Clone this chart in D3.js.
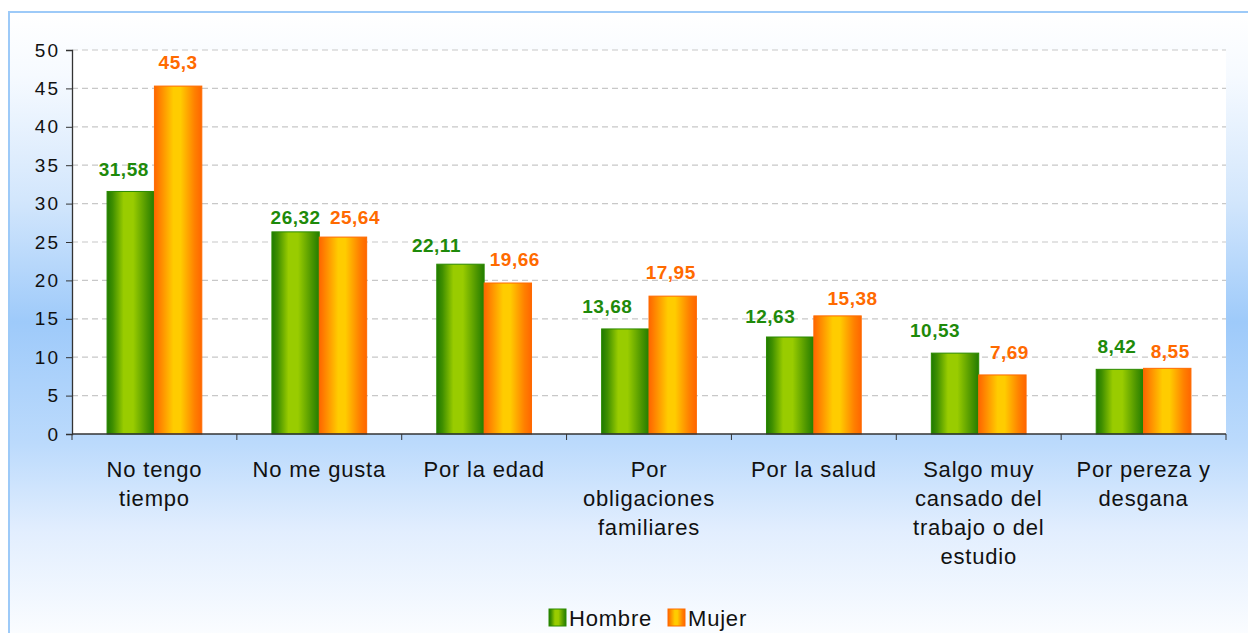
<!DOCTYPE html>
<html>
<head>
<meta charset="utf-8">
<script src="https://d3js.org/d3.v7.min.js"></script>
<style>
  body { margin: 0; background: #fff; }
  svg { display: block; font-family: Arial, "Liberation Sans", sans-serif; }
</style>
</head>
<body>
<div id="chart"></div>
<script>
var categories = [
    ["No tengo", "tiempo"],
    ["No me gusta"],
    ["Por la edad"],
    ["Por", "obligaciones", "familiares"],
    ["Por la salud"],
    ["Salgo muy", "cansado del", "trabajo o del", "estudio"],
    ["Por pereza y", "desgana"]
];
var series = ["Hombre", "Mujer"];
var hombre = [31.58, 26.32, 22.11, 13.68, 12.63, 10.53, 8.42];
var mujer = [45.3, 25.64, 19.66, 17.95, 15.38, 7.69, 8.55];
var labelsHombre = ["31,58", "26,32", "22,11", "13,68", "12,63", "10,53", "8,42"];
var labelsMujer = ["45,3", "25,64", "19,66", "17,95", "15,38", "7,69", "8,55"];
var yTicks = [0, 5, 10, 15, 20, 25, 30, 35, 40, 45, 50];

window.onload = function() {
    drawChart();
}

function drawChart() {
    var width = 1248, height = 633;
    var left = 72, right = 1226, top = 50, bottom = 434;

    // hand-placed value labels in the original: [dx from bar centre, gap above bar top]
    var nudgeH = [[-7, 15], [0, 8], [-24, 12], [-18, 16], [-20, 14], [-20, 16], [-3, 16]];
    var nudgeM = [[0, 17], [12, 13], [7, 17], [-2, 17], [15, 11], [7, 16], [3, 10]];

    var svg = d3.select('#chart').append('svg')
        .attr('width', width)
        .attr('height', height);

    var defs = svg.append('defs');

    // background gradient (white -> blue -> white)
    var bg = defs.append('linearGradient')
        .attr('id', 'bg').attr('x1', 0).attr('y1', 0).attr('x2', 0).attr('y2', 1);
    [[0, '#ffffff'], [0.1, '#f6faff'], [0.3, '#d2e6fc'], [0.49, '#9ecafa'],
     [0.68, '#bbdafc'], [0.82, '#e2eefe'], [1, '#fdfeff']].forEach(function(s) {
        bg.append('stop').attr('offset', s[0]).attr('stop-color', s[1]);
    });

    var green = defs.append('linearGradient').attr('id', 'gGreen');
    [[0, '#1f7a00'], [0.12, '#3f8f00'], [0.35, '#99cc00'], [0.55, '#99cc00'],
     [0.85, '#4a9400'], [1, '#237d00']].forEach(function(s) {
        green.append('stop').attr('offset', s[0]).attr('stop-color', s[1]);
    });
    var orange = defs.append('linearGradient').attr('id', 'gOrange');
    [[0, '#ff6600'], [0.15, '#ff8c00'], [0.4, '#ffcc00'], [0.55, '#ffcc00'],
     [0.85, '#ff8000'], [1, '#ff6600']].forEach(function(s) {
        orange.append('stop').attr('offset', s[0]).attr('stop-color', s[1]);
    });

    svg.append('rect')
        .attr('x', 9).attr('y', 12)
        .attr('width', width).attr('height', height)
        .attr('fill', 'url(#bg)')
        .attr('stroke', '#9dcaf8')
        .attr('stroke-width', 2);

    svg.append('rect')
        .attr('x', left).attr('y', top)
        .attr('width', right - left).attr('height', bottom - top)
        .attr('fill', '#ffffff');

    var x0 = d3.scaleBand()
        .domain(d3.range(categories.length))
        .range([left, right])
        .paddingInner(0).paddingOuter(0);
    var x1 = d3.scaleBand()
        .domain(series)
        .range([0, x0.bandwidth()])
        .paddingInner(0)
        .paddingOuter(0.74);
    var y = d3.scaleLinear().domain([0, 50]).range([bottom, top]);

    // gridlines
    svg.append('g').selectAll('line')
        .data(yTicks.filter(function(d) { return d > 0; }))
        .enter().append('line')
        .attr('x1', left).attr('x2', right)
        .attr('y1', function(d) { return y(d); })
        .attr('y2', function(d) { return y(d); })
        .attr('stroke', '#c8c8c8')
        .attr('stroke-width', 1.2)
        .attr('stroke-dasharray', '6,4');

    var data = categories.map(function(c, i) {
        return [
            { s: 'Hombre', v: hombre[i], l: labelsHombre[i], n: nudgeH[i] },
            { s: 'Mujer', v: mujer[i], l: labelsMujer[i], n: nudgeM[i] }
        ];
    });

    var groups = svg.append('g').selectAll('g')
        .data(data)
        .enter().append('g')
        .attr('transform', function(d, i) { return 'translate(' + x0(i) + ',0)'; });

    groups.selectAll('rect')
        .data(function(d) { return d; })
        .enter().append('rect')
        .attr('x', function(d) { return x1(d.s); })
        .attr('width', x1.bandwidth())
        .attr('y', function(d) { return y(d.v); })
        .attr('height', function(d) { return y(0) - y(d.v); })
        .attr('fill', function(d) { return d.s == 'Hombre' ? 'url(#gGreen)' : 'url(#gOrange)'; })
        .attr('stroke', function(d) { return d.s == 'Hombre' ? '#2b8a00' : '#ff6a00'; })
        .attr('stroke-width', 1);

    groups.selectAll('text')
        .data(function(d) { return d; })
        .enter().append('text')
        .attr('x', function(d) { return x1(d.s) + x1.bandwidth() / 2 + d.n[0]; })
        .attr('y', function(d) { return y(d.v) - d.n[1]; })
        .attr('text-anchor', 'middle')
        .attr('font-size', '19px')
        .attr('font-weight', 'bold')
        .attr('letter-spacing', '0.5px')
        .attr('fill', function(d) { return d.s == 'Hombre' ? '#1e8a0a' : '#ff6a00'; })
        .text(function(d) { return d.l; });

    // y axis
    var yAxis = svg.append('g')
        .attr('transform', 'translate(' + left + ',0)')
        .call(d3.axisLeft(y).tickValues(yTicks).tickSize(6).tickPadding(6));
    yAxis.select('.domain').attr('stroke', '#333').attr('stroke-width', 1.3);
    yAxis.selectAll('.tick line').attr('stroke', '#333');
    yAxis.selectAll('text')
        .attr('font-size', '19px')
        .attr('letter-spacing', '2px')
        .attr('font-family', 'Arial, "Liberation Sans", sans-serif')
        .attr('fill', '#111');

    // x axis
    var xAxis = svg.append('g')
        .attr('transform', 'translate(0,' + bottom + ')');
    xAxis.append('line')
        .attr('x1', left).attr('x2', right)
        .attr('stroke', '#333').attr('stroke-width', 1.3);
    xAxis.selectAll('.tk')
        .data(d3.range(categories.length + 1))
        .enter().append('line')
        .attr('class', 'tk')
        .attr('x1', function(d) { return d < categories.length ? x0(d) : right; })
        .attr('x2', function(d) { return d < categories.length ? x0(d) : right; })
        .attr('y1', 0).attr('y2', 6)
        .attr('stroke', '#333');

    var catText = svg.append('g').selectAll('text')
        .data(categories)
        .enter().append('text')
        .attr('text-anchor', 'middle')
        .attr('font-size', '22px')
        .attr('letter-spacing', '0.8px')
        .attr('fill', '#111')
        .attr('transform', function(d, i) {
            return 'translate(' + (x0(i) + x0.bandwidth() / 2) + ',' + (bottom + 43) + ')';
        });
    catText.selectAll('tspan')
        .data(function(d) { return d; })
        .enter().append('tspan')
        .attr('x', 0)
        .attr('dy', function(d, i) { return i == 0 ? 0 : 29; })
        .text(function(d) { return d; });

    // legend
    var legend = svg.append('g')
        .attr('transform', 'translate(549,609)');
    var items = [
        { name: 'Hombre', fill: 'url(#gGreen)', stroke: '#2b8a00', x: 0 },
        { name: 'Mujer', fill: 'url(#gOrange)', stroke: '#ff6a00', x: 119 }
    ];
    var li = legend.selectAll('g')
        .data(items)
        .enter().append('g')
        .attr('transform', function(d) { return 'translate(' + d.x + ',0)'; });
    li.append('rect')
        .attr('width', 17).attr('height', 17)
        .attr('fill', function(d) { return d.fill; })
        .attr('stroke', function(d) { return d.stroke; });
    li.append('text')
        .attr('x', 20).attr('y', 17)
        .attr('font-size', '22px')
        .attr('letter-spacing', '0.8px')
        .attr('fill', '#111')
        .text(function(d) { return d.name; });
}
</script>
</body>
</html>
